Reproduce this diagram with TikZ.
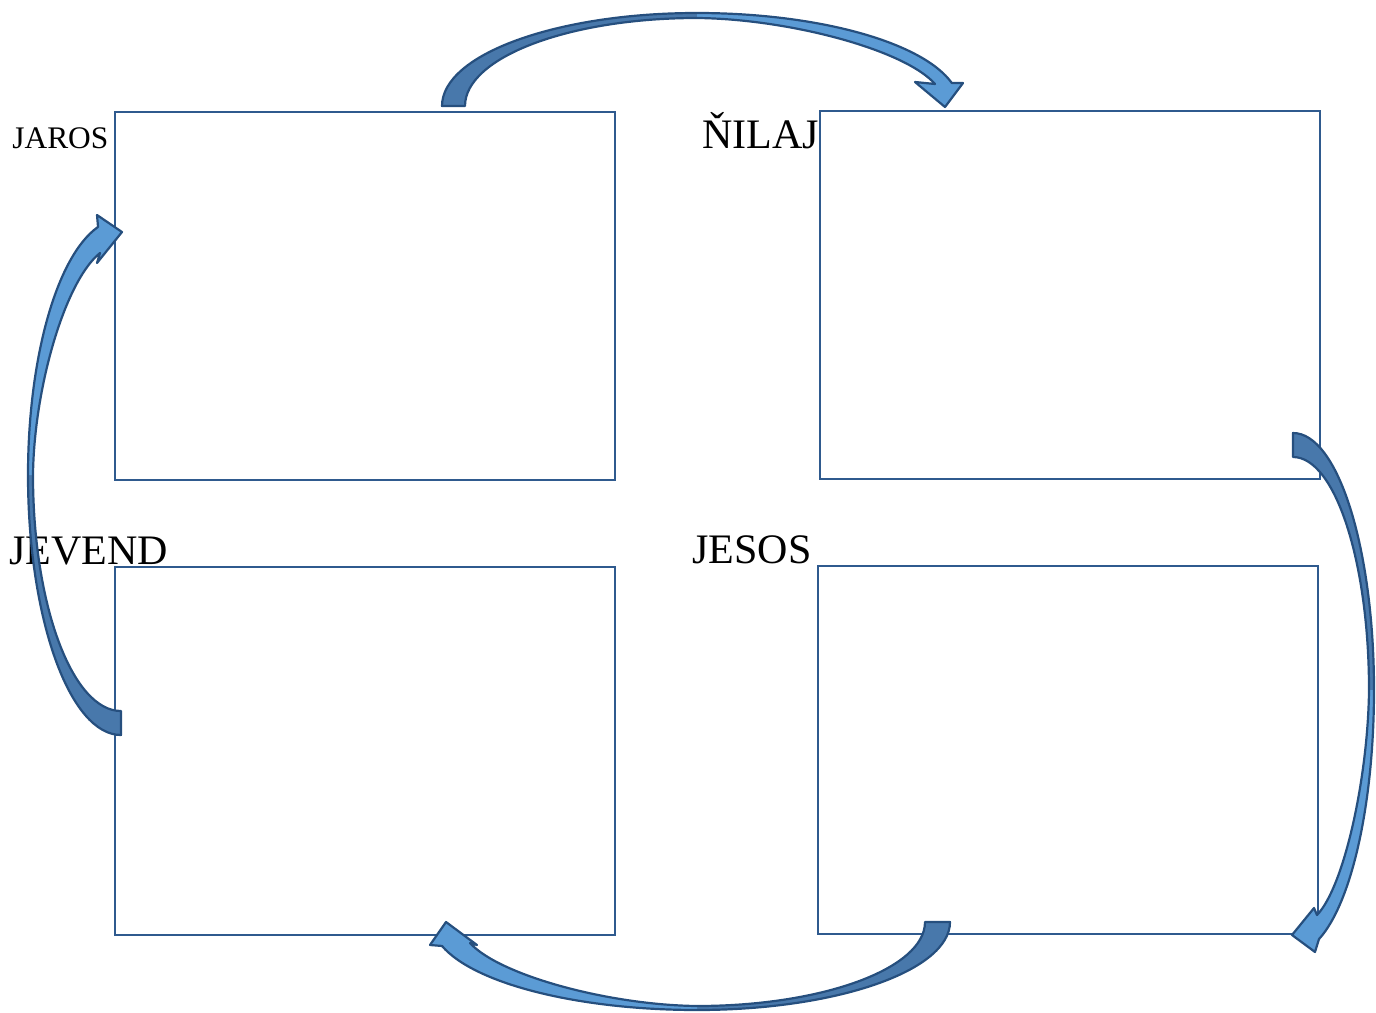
\documentclass[tikz,border=0pt]{standalone}
\usepackage{fontspec}
\setmainfont{Liberation Serif}
\definecolor{boxc}{HTML}{2F5A8E}
\definecolor{arrline}{HTML}{264F7E}
\definecolor{darkfill}{HTML}{4878AB}
\definecolor{lightfill}{HTML}{5B9BD5}
\tikzset{
  box/.style={draw=boxc, line width=1pt, minimum width=250pt, minimum height=184pt, inner sep=0pt},
  lbl/.style={anchor=base west, inner sep=0pt, font=\fontsize{21}{24}\selectfont},
  smalllbl/.style={anchor=base west, inner sep=0pt, font=\fontsize{15.7}{18}\selectfont},
  arrout/.style={draw=arrline, line width=1.1pt, line join=round},
}
\begin{document}
\begin{tikzpicture}[x=0.5pt,y=-0.5pt]
\useasboundingbox (0,0) rectangle (1376,1012);
% boxes
\node[box] (jaros) at (365,296) {};
\node[box] (nilaj) at (1070,295) {};
\node[box] (jevend) at (365,751) {};
\node[box] (jesos) at (1068,750) {};
% labels
\node[smalllbl] (tjaros) at (12,148) {JAROS};
\node[lbl] (tnilaj) at (702,148) {ŇILAJ};
\node[lbl] (tjevend) at (9,564) {JEVEND};
\node[lbl] (tjesos) at (692,563) {JESOS};
% top arrow (JAROS -> NILAJ)
\fill[darkfill] (442,106) arc[start angle=180,end angle=270,x radius=255,y radius=93]
  -- (697,18) arc[start angle=270,end angle=180,x radius=232,y radius=88] -- cycle;
\fill[lightfill] (697,13) arc[start angle=270,end angle=345.7,x radius=263,y radius=93]
  -- (963,83) -- (945,107) -- (915,82) -- (935,84)
  .. controls (905,50) and (790,19) .. (697,18) -- cycle;
\draw[arrout] (442,106) arc[start angle=180,end angle=270,x radius=255,y radius=93]
  arc[start angle=270,end angle=345.7,x radius=263,y radius=93]
  -- (963,83) -- (945,107) -- (915,82) -- (935,84)
  .. controls (905,50) and (790,19) .. (697,18)
  arc[start angle=270,end angle=180,x radius=232,y radius=88] -- cycle;
% right arrow (NILAJ -> JESOS)
\fill[darkfill] (1293,433) arc[start angle=270,end angle=360,x radius=81,y radius=257]
  -- (1369,690) arc[start angle=360,end angle=270,x radius=76,y radius=233] -- cycle;
\fill[lightfill] (1374,690) arc[start angle=0,end angle=71.3,x radius=81,y radius=263]
  -- (1315,952) -- (1292,935) -- (1314,908) -- (1317,915)
  .. controls (1344,887) and (1368,778) .. (1369,690) -- cycle;
\draw[arrout] (1293,433) arc[start angle=270,end angle=360,x radius=81,y radius=257]
  arc[start angle=0,end angle=71.3,x radius=81,y radius=263]
  -- (1315,952) -- (1292,935) -- (1314,908) -- (1317,915)
  .. controls (1344,887) and (1368,778) .. (1369,690)
  arc[start angle=360,end angle=270,x radius=76,y radius=233] -- cycle;
% bottom arrow (JESOS -> JEVEND)
\fill[darkfill] (950,922) arc[start angle=0,end angle=90,x radius=253,y radius=88]
  -- (697,1006) arc[start angle=90,end angle=0,x radius=228,y radius=84] -- cycle;
\fill[lightfill] (697,1010) arc[start angle=90,end angle=164.2,x radius=265,y radius=88]
  -- (430,945) -- (446,922) -- (477,945) -- (470,943)
  .. controls (499,975) and (608,1005) .. (697,1006) -- cycle;
\draw[arrout] (950,922) arc[start angle=0,end angle=90,x radius=253,y radius=88]
  arc[start angle=90,end angle=164.2,x radius=265,y radius=88]
  -- (430,945) -- (446,922) -- (477,945) -- (470,943)
  .. controls (499,975) and (608,1005) .. (697,1006)
  arc[start angle=90,end angle=0,x radius=228,y radius=84] -- cycle;
% left arrow (JEVEND -> JAROS)
\fill[darkfill] (121,735) arc[start angle=90,end angle=180,x radius=93,y radius=260]
  -- (33,475) arc[start angle=180,end angle=90,x radius=88,y radius=236] -- cycle;
\fill[lightfill] (28,475) arc[start angle=180,end angle=255.7,x radius=93,y radius=256]
  -- (97,215) -- (122,232) -- (97,263) -- (100,253)
  .. controls (65,281) and (34,388) .. (33,475) -- cycle;
\draw[arrout] (121,735) arc[start angle=90,end angle=180,x radius=93,y radius=260]
  arc[start angle=180,end angle=255.7,x radius=93,y radius=256]
  -- (97,215) -- (122,232) -- (97,263) -- (100,253)
  .. controls (65,281) and (34,388) .. (33,475)
  arc[start angle=180,end angle=90,x radius=88,y radius=236] -- cycle;
\end{tikzpicture}
\end{document}
